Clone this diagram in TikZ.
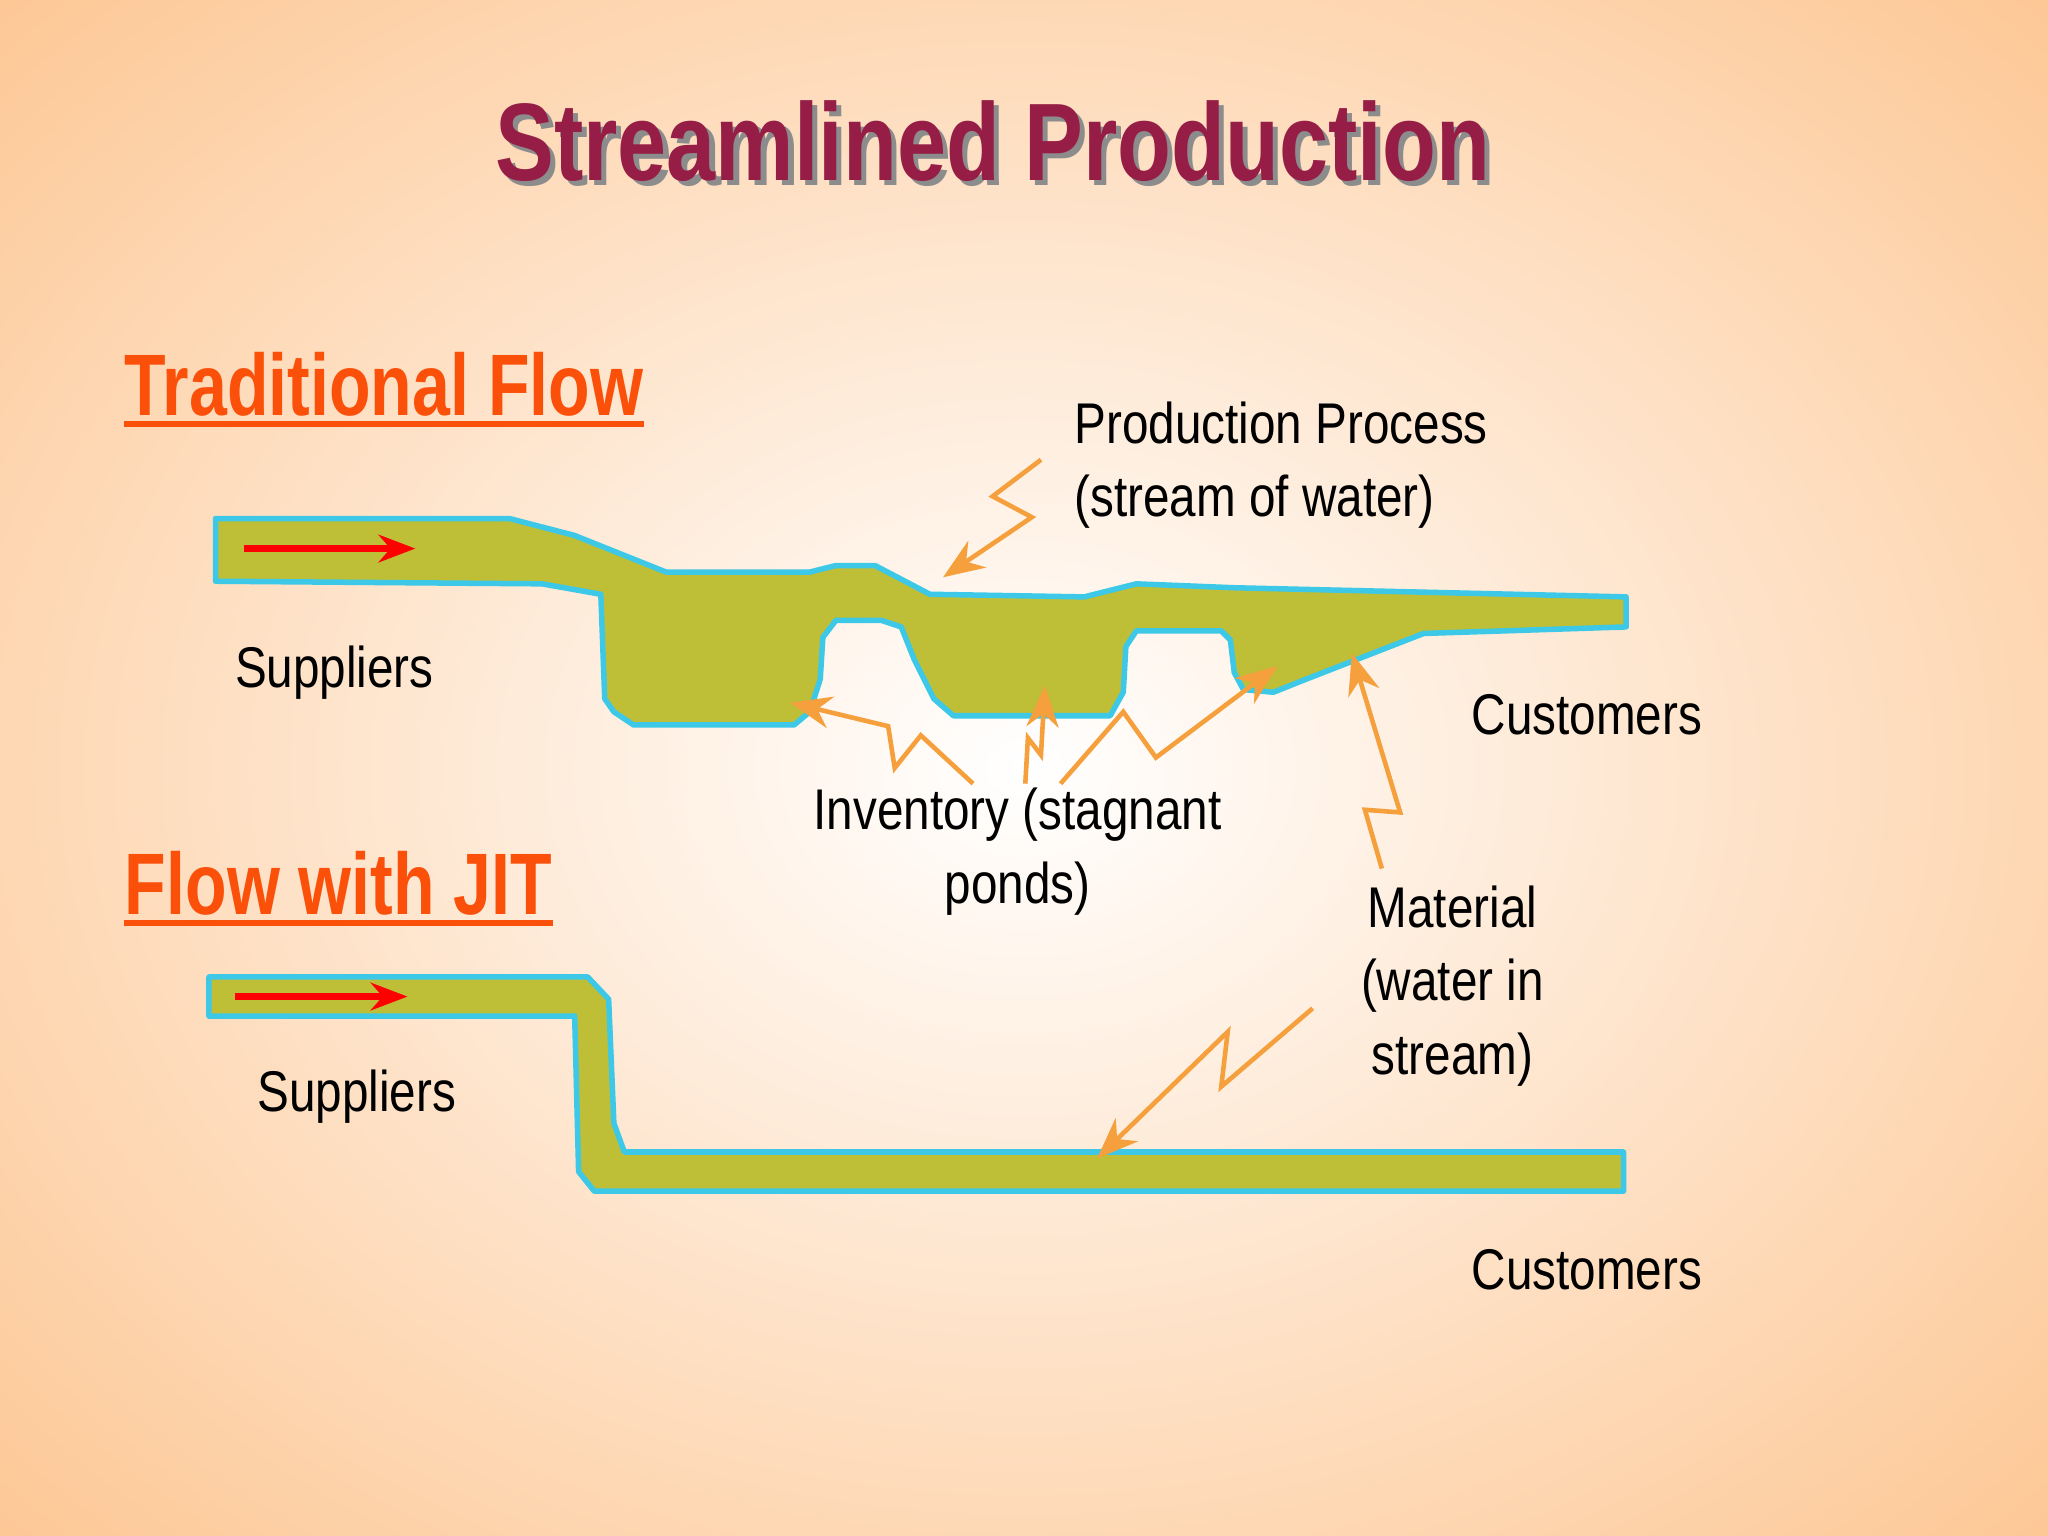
\documentclass[tikz,border=0pt]{standalone}
\usepackage{fontspec}
\setmainfont{Liberation Sans}[FakeStretch=0.83]
\newfontfamily\tfont{Liberation Sans}[FakeStretch=0.80]
\newfontfamily\hfont{Liberation Sans}[FakeStretch=0.78]
\usetikzlibrary{arrows.meta}
\definecolor{peach}{RGB}{253,200,150}
\definecolor{water}{RGB}{190,190,55}
\definecolor{edge}{RGB}{60,200,230}
\definecolor{zig}{RGB}{245,160,60}
\definecolor{titlec}{RGB}{150,30,70}
\definecolor{headc}{RGB}{250,80,10}
\begin{document}
\begin{tikzpicture}[x=0.01cm,y=-0.01cm,
  stream/.style={fill=water,draw=edge,line width=1.2pt,line join=round},
  zz/.style={draw=zig,line width=1pt,-{Stealth[length=9pt,width=7pt]}},
  red/.style={draw=red,line width=1.6pt,-{Stealth[length=8pt,width=6pt]}},
  lbl/.style={font=\fontsize{12.5}{16}\selectfont,text=black,inner sep=0pt},
  head/.style={font=\hfont\bfseries\fontsize{19}{22}\selectfont,text=headc,inner sep=0pt,anchor=base west}]
\useasboundingbox (0,0) rectangle (1568,1176);
\shade[inner color=white,outer color=peach] (-300,-250) rectangle (1868,1426);
% title
\node[font=\tfont\bfseries\fontsize{24}{28}\selectfont,text=black!45] (tsh) at (764,112) {Streamlined Production};
\node[font=\tfont\bfseries\fontsize{24}{28}\selectfont,text=titlec] (title) at (760,108) {Streamlined Production};
% headings
\node[head] (h1) at (95,318) {Traditional Flow};
\draw[headc,line width=1.3pt] ([yshift=-1.5pt]h1.south west) -- ([yshift=-1.5pt]h1.south east);
\node[head] (h2) at (95,700) {Flow with JIT};
\draw[headc,line width=1.3pt] ([yshift=-1.5pt]h2.south west) -- ([yshift=-1.5pt]h2.south east);
% traditional stream
\path[stream] (165,397) -- (390,397) -- (440,410) -- (510,438) -- (620,438) -- (640,433) -- (670,433)
 -- (712,455) -- (830,457) -- (870,447) -- (945,450) -- (1245,457) -- (1245,480) -- (1090,485)
 -- (1000,520) -- (975,530) -- (952,528) -- (945,515) -- (942,490) -- (935,483) -- (870,483)
 -- (862,495) -- (860,530) -- (850,548) -- (730,548) -- (715,535) -- (700,505) -- (690,480)
 -- (675,475) -- (640,475) -- (630,488) -- (628,520) -- (620,545) -- (608,555) -- (485,555)
 -- (470,545) -- (463,535) -- (460,455) -- (415,447) -- (165,445) -- cycle;
% JIT stream
\path[stream] (160,748) -- (450,748) -- (466,765) -- (470,860) -- (478,882) -- (1243,882)
 -- (1243,912) -- (455,912) -- (443,897) -- (440,778) -- (160,778) -- cycle;
\coordinate (r1a) at (187,420); \coordinate (r1b) at (318,420);
\coordinate (r2a) at (180,763); \coordinate (r2b) at (312,763);
\draw[red] (r1a) -- (r1b);
\draw[red] (r2a) -- (r2b);
% labels
\node[lbl,anchor=west,align=left] (pp) at (822,356) {Production Process\\(stream of water)};
\node[lbl] (s1) at (256,515) {Suppliers};
\node[lbl] (c1) at (1215,547) {Customers};
\node[lbl,align=center] (inv) at (779,652) {Inventory (stagnant\\ponds)};
\node[lbl,align=center] (mat) at (1112,755) {Material\\(water in\\stream)};
\node[lbl] (s2) at (273,840) {Suppliers};
\node[lbl] (c2) at (1215,972) {Customers};
% zigzag arrows
\coordinate (t1) at (722,442);
\coordinate (t2) at (605,538);
\coordinate (t3) at (800,525);
\coordinate (t4) at (978,510);
\coordinate (t5) at (1035,500);
\coordinate (t6) at (840,887);
\draw[zz] (797,352) -- (760,380) -- (790,396) -- (t1);
\draw[zz] (745,600) -- (705,563) -- (685,588) -- (680,556) -- (t2);
\draw[zz] (785,600) -- (787,565) -- (797,578) -- (t3);
\draw[zz] (812,600) -- (860,545) -- (885,580) -- (t4);
\draw[zz] (1058,665) -- (1045,620) -- (1072,622) -- (t5);
\draw[zz] (1005,772) -- (935,832) -- (940,790) -- (t6);
\end{tikzpicture}
\end{document}
